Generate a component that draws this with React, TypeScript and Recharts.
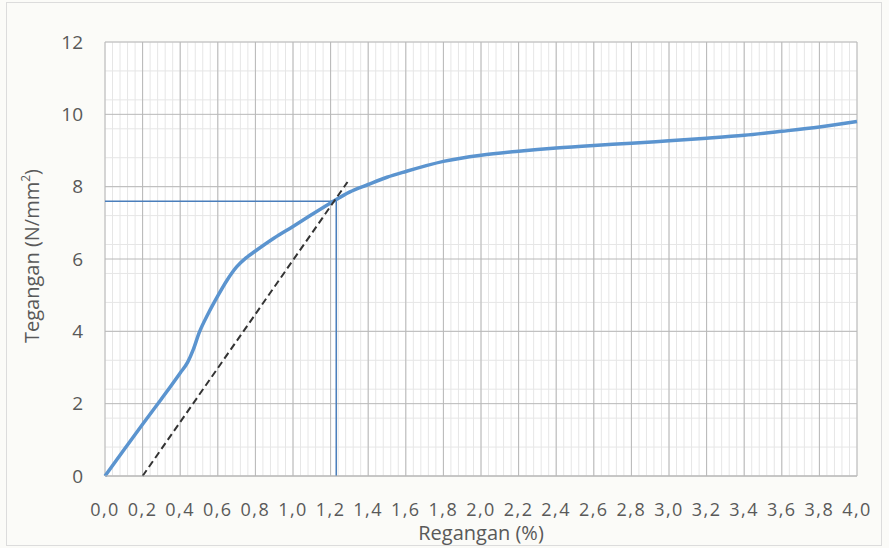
import { LineChart, Line, XAxis, YAxis, CartesianGrid, Label } from "recharts";

// regangan (%) vs tegangan (N/mm2)
const strain = [0, 0.1, 0.2, 0.3, 0.4, 0.44, 0.47, 0.5, 0.55, 0.6, 0.65, 0.7, 0.75, 0.8, 0.9, 1.0, 1.1, 1.2, 1.3, 1.4, 1.5, 1.6, 1.8, 2.0, 2.2, 2.4, 2.6, 2.8, 3.0, 3.2, 3.4, 3.6, 3.8, 4.0];
const stress = [0, 0.72, 1.43, 2.13, 2.85, 3.15, 3.5, 3.95, 4.5, 4.98, 5.42, 5.78, 6.03, 6.22, 6.58, 6.9, 7.23, 7.55, 7.85, 8.06, 8.26, 8.42, 8.7, 8.87, 8.98, 9.07, 9.14, 9.2, 9.27, 9.34, 9.42, 9.53, 9.65, 9.8];

// offset line (dashed)
const offsetX = [0.2, 1.29];
const offsetY = [0, 8.13];

// yield point guide lines
const yieldX = [0, 1.23, 1.23];
const yieldY = [7.6, 7.6, 0];

const xTicks = [0, 0.2, 0.4, 0.6, 0.8, 1.0, 1.2, 1.4, 1.6, 1.8, 2.0, 2.2, 2.4, 2.6, 2.8, 3.0, 3.2, 3.4, 3.6, 3.8, 4.0];
const yTicks = [0, 2, 4, 6, 8, 10, 12];

const curve = strain.map((x, i) => ({ x, y: stress[i] }));
const offset = offsetX.map((x, i) => ({ x, y: offsetY[i] }));
const guide = yieldX.map((x, i) => ({ x, y: yieldY[i] }));

const minorX: number[] = [];
for (let i = 0; i <= 100; i++) minorX.push(i * 0.04);
const minorY: number[] = [];
for (let i = 0; i <= 30; i++) minorY.push(i * 0.4);

const font = "'Open Sans', sans-serif";

export default function App() {
  return (
    <div style={{ position: "absolute", left: 0, top: 0, width: 889, height: 548, background: "#fbfbf8" }}>
      <div style={{ position: "absolute", left: 6, top: 2, width: 876, height: 544, border: "1px solid #dcdcdc", boxSizing: "border-box" }} />
      <LineChart width={889} height={548} margin={{ top: 42, right: 32, bottom: 0, left: 0 }}>
        <CartesianGrid verticalValues={minorX} horizontalValues={minorY} stroke="#e6e6e6" strokeWidth={1} fill="#ffffff" />
        <CartesianGrid verticalValues={xTicks} horizontalValues={yTicks} stroke="#b8b8b8" strokeWidth={1} />
        <XAxis
          type="number"
          dataKey="x"
          domain={[0, 4]}
          ticks={xTicks}
          allowDuplicatedCategory={false}
          height={72}
          axisLine={{ stroke: "#b8b8b8" }}
          tickLine={false}
          tickSize={0}
          tickMargin={27}
          tick={{ fill: "#595959", fontSize: 18, fontFamily: font, letterSpacing: 1.5 }}
          tickFormatter={(v: number) => v.toFixed(1).replace(".", ",")}
          interval={0}
        >
          <Label value="Regangan (%)" position="insideBottom" offset={8} style={{ fill: "#595959", fontSize: 20, fontFamily: font }} />
        </XAxis>
        <YAxis
          type="number"
          dataKey="y"
          domain={[0, 12]}
          ticks={yTicks}
          width={105}
          axisLine={false}
          tickLine={false}
          tickSize={0}
          tickMargin={22}
          tick={{ fill: "#595959", fontSize: 19, fontFamily: font }}
        >
          <Label
            content={() => (
              <text x={34} y={256} transform="rotate(-90 34 256)" textAnchor="middle" dominantBaseline="middle" fill="#595959" fontSize={20} fontFamily={font}>
                Tegangan (N/mm<tspan dy={-7} fontSize={12}>2</tspan><tspan dy={7}>)</tspan>
              </text>
            )}
          />
        </YAxis>
        <Line data={guide} dataKey="y" type="linear" stroke="#4a7ebb" strokeWidth={1.5} dot={false} isAnimationActive={false} />
        <Line data={curve} dataKey="y" type="monotone" stroke="#5b94cf" strokeWidth={3.5} dot={false} isAnimationActive={false} />
        <Line data={offset} dataKey="y" type="linear" stroke="#333333" strokeWidth={2} strokeDasharray="7 4" dot={false} isAnimationActive={false} />
      </LineChart>
    </div>
  );
}
